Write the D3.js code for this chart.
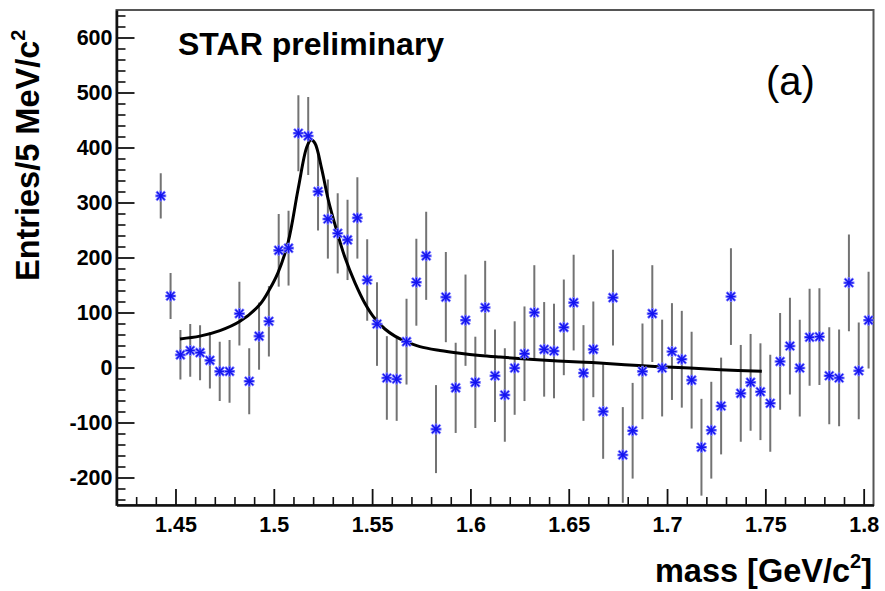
<!DOCTYPE html>
<html><head><meta charset="utf-8">
<script src="https://cdn.jsdelivr.net/npm/d3@7"></script>
<style>
body{margin:0;background:#fff}
svg{display:block}
text{font-family:"Liberation Sans",Arial,Helvetica,sans-serif}
</style>
</head><body>
<svg id="chart" width="885" height="591"></svg>
<script>
// ---- data ----
const massBins = [1.4425,1.4475,1.4525,1.4575,1.4625,1.4675,1.4725,1.4775,1.4825,1.4875,
1.4925,1.4975,1.5025,1.5075,1.5125,1.5175,1.5225,1.5275,1.5325,1.5375,
1.5425,1.5475,1.5525,1.5575,1.5625,1.5675,1.5725,1.5775,1.5825,1.5875,
1.5925,1.5975,1.6025,1.6075,1.6125,1.6175,1.6225,1.6275,1.6325,1.6375,
1.6425,1.6475,1.6525,1.6575,1.6625,1.6675,1.6725,1.6775,1.6825,1.6875,
1.6925,1.6975,1.7025,1.7075,1.7125,1.7175,1.7225,1.7275,1.7325,1.7375,
1.7425,1.7475,1.7525,1.7575,1.7625,1.7675,1.7725,1.7775,1.7825,1.7875,
1.7925,1.7975,1.8025];
const entries = [312,130,23,31,27,13,-7,-7,98,-25,
57,84,213,217,426,421,320,270,244,232,
272,159,79,-19,-21,47,155,203,-112,128,
-37,86,-27,109,-15,-50,-1,25,100,33,
30,73,118,-10,33,-80,127,-159,-115,-7,
98,-1,29,15,-23,-145,-114,-70,129,-47,
-27,-44,-65,11,39,-1,55,56,-15,-19,
154,-6,86];
const errors = [41,42,45,48,50,51,54,57,58,60,
61,64,66,68,69,71,71,72,73,73,
74,74,76,76,76,78,79,80,80,82,
82,83,83,85,84,85,85,86,86,86,
86,87,87,87,87,86,87,87,87,87,
88,88,88,88,88,88,88,88,88,88,
88,88,88,88,88,88,88,88,88,88,
88,88,88];
// fit curve
const fitMass = [1.4523,1.4624,1.4726,1.4828,1.4930,1.4980,1.5021,1.5073,1.5124,1.5167,
1.5189,1.5209,1.5243,1.5277,1.5319,1.5362,1.5413,1.5463,1.5514,1.5565,
1.5616,1.5667,1.5743,1.5845,1.5946,1.6048,1.6150,1.6302,1.6445,1.6617,
1.6785,1.6938,1.7116,1.7270,1.7482];
const fitEntries = [52,57,67,84,115,143,172,228,325,400,
414,408,362,305,250,200,154,117,89,70,
57,48,38,31,26,22,19,15,12,9,
5,2,-1,-4,-7];
const xMajorTicks = [1.45,1.5,1.55,1.6,1.65,1.7,1.75,1.8];
const xTickLabels = ["1.45","1.5","1.55","1.6","1.65","1.7","1.75","1.8"];
const yMajorTicks = [-200,-100,0,100,200,300,400,500,600];
const yTickLabels = ["-200","-100","0","100","200","300","400","500","600"];

// ---- layout ----
const L = 116.5, R = 873.5, T = 10, B = 505;
const svg = d3.select("#chart");
const x = d3.scaleLinear().domain([1.42, 1.805]).range([L, R]);
const y = d3.scaleLinear().domain([-250, 650]).range([B, T]);

svg.append("defs").append("clipPath").attr("id","plotclip")
  .append("rect").attr("x",L).attr("y",T).attr("width",R-L).attr("height",B-T);

// frame
svg.append("rect").attr("x",L).attr("y",T).attr("width",R-L).attr("height",B-T)
  .attr("fill","none").attr("stroke","#555").attr("stroke-width",2);

// y axis minor
const yMinor = d3.range(-240, 650, 20).filter(v => v % 100 !== 0);
svg.append("g").attr("transform",`translate(${L},0)`)
  .call(d3.axisLeft(y).tickValues(yMinor).tickSize(-9).tickSizeOuter(0).tickFormat(""))
  .call(g => g.select(".domain").remove())
  .call(g => g.selectAll(".tick line").attr("stroke","#111").attr("stroke-width",1.6));
// y axis major
svg.append("g").attr("transform",`translate(${L},0)`)
  .call(d3.axisLeft(y).tickValues(yMajorTicks).tickSize(-18).tickSizeOuter(0).tickPadding(4)
        .tickFormat((d,i) => yTickLabels[i]))
  .call(g => g.select(".domain").attr("stroke","#111").attr("stroke-width",2.5))
  .call(g => g.selectAll(".tick line").attr("stroke","#111").attr("stroke-width",1.8))
  .call(g => g.selectAll(".tick text").attr("fill","#000").attr("font-size",21.5)
        .attr("font-weight","bold").attr("font-family","Liberation Sans, Arial, sans-serif"));

// x axis minor
const xMinor = d3.range(0, 39).map(i => +(1.42 + i*0.01).toFixed(2))
  .filter(v => !xMajorTicks.some(m => Math.abs(m - v) < 1e-6));
svg.append("g").attr("transform",`translate(0,${B})`)
  .call(d3.axisBottom(x).tickValues(xMinor).tickSize(-8).tickSizeOuter(0).tickFormat(""))
  .call(g => g.select(".domain").remove())
  .call(g => g.selectAll(".tick line").attr("stroke","#111").attr("stroke-width",1.6));
// x axis major
svg.append("g").attr("transform",`translate(0,${B})`)
  .call(d3.axisBottom(x).tickValues(xMajorTicks).tickSize(-16).tickSizeOuter(0).tickPadding(12)
        .tickFormat((d,i) => xTickLabels[i]))
  .call(g => g.select(".domain").attr("stroke","#111").attr("stroke-width",2.5))
  .call(g => g.selectAll(".tick line").attr("stroke","#111").attr("stroke-width",1.8))
  .call(g => g.selectAll(".tick text").attr("fill","#000").attr("font-size",21.5)
        .attr("font-weight","bold").attr("font-family","Liberation Sans, Arial, sans-serif"));

// data
const pts = massBins.map((m,i) => ({m, v: entries[i], e: errors[i]}));
const plot = svg.append("g").attr("clip-path","url(#plotclip)");

plot.append("g").selectAll("line").data(pts).join("line")
  .attr("x1", d => x(d.m)).attr("x2", d => x(d.m))
  .attr("y1", d => y(d.v - d.e)).attr("y2", d => y(d.v + d.e))
  .attr("stroke","#737373").attr("stroke-width",2);

// fit curve
const line = d3.line().x((d,i) => x(fitMass[i])).y(d => y(d)).curve(d3.curveCatmullRom.alpha(0.5));
plot.append("path").datum(fitEntries).attr("d", line)
  .attr("fill","none").attr("stroke","#000").attr("stroke-width",3);

// star markers
const s = 5.5;
const markers = plot.append("g").selectAll("g").data(pts).join("g")
  .attr("transform", d => `translate(${x(d.m)},${y(d.v)})`);
markers.append("path")
  .attr("d", `M${-s},0H${s}M0,${-s}V${s}M${-s*0.8},${-s*0.8}L${s*0.8},${s*0.8}M${-s*0.8},${s*0.8}L${s*0.8},${-s*0.8}`)
  .attr("stroke","#7a7aff").attr("stroke-width",2.6).attr("fill","none");
markers.append("path")
  .attr("d", `M${-s+1},0H${s-1}M0,${-s+1}V${s-1}M${-s*0.7},${-s*0.7}L${s*0.7},${s*0.7}M${-s*0.7},${s*0.7}L${s*0.7},${-s*0.7}`)
  .attr("stroke","#1414f0").attr("stroke-width",1.3).attr("fill","none");

// texts
svg.append("text").attr("x",178).attr("y",55).attr("font-size",32).attr("font-weight","bold")
  .attr("fill","#000").text("STAR preliminary");
svg.append("text").attr("x",766).attr("y",95).attr("font-size",40)
  .attr("fill","#000").text("(a)");

const yt = svg.append("text").attr("transform","translate(39,281) rotate(-90)")
  .attr("font-size",32.5).attr("font-weight","bold").attr("fill","#000");
yt.append("tspan").text("Entries/5 MeV/c");
yt.append("tspan").attr("font-size",20).attr("dy",-14).text("2");

const xt = svg.append("text").attr("x",872).attr("y",582).attr("text-anchor","end")
  .attr("font-size",32.5).attr("font-weight","bold").attr("fill","#000");
xt.append("tspan").text("mass [GeV/c");
xt.append("tspan").attr("font-size",20).attr("dy",-14).text("2");
xt.append("tspan").attr("dy",14).text("]");
</script>
</body></html>
